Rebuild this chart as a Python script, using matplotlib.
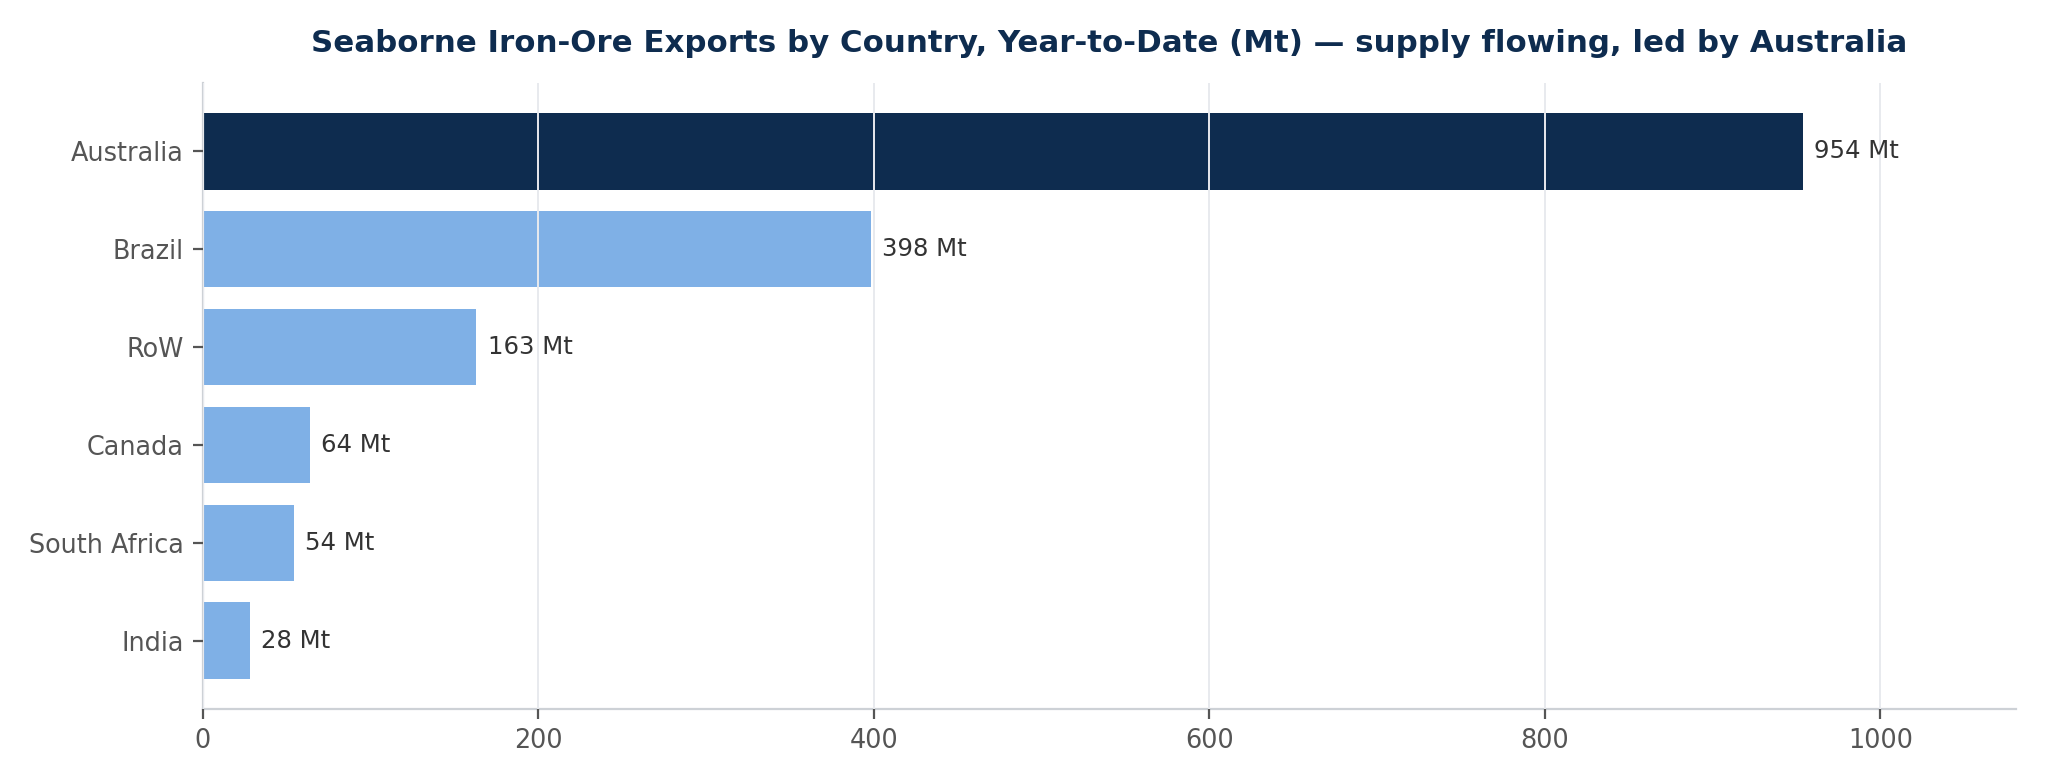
import numpy as np
import matplotlib
matplotlib.use('Agg')
import matplotlib.pyplot as plt

countries = ['Australia', 'Brazil', 'RoW', 'Canada', 'South Africa', 'India']
exports_mt = [954, 398, 163, 64, 54, 28]
value_labels = ['954 Mt', '398 Mt', '163 Mt', '64 Mt', '54 Mt', '28 Mt']
x_ticks = [0, 200, 400, 600, 800, 1000]

navy = '#0e2c4f'
light_blue = '#7fb0e6'

plt.rcParams['font.family'] = ['DejaVu Sans']

fig = plt.figure(figsize=(10.225, 3.905), dpi=200)
ax = fig.add_axes([203 / 2045, 1 - 709 / 781, (2016 - 203) / 2045, (709 - 83) / 781])

y = np.arange(len(countries))
colors = [navy if c == 'Australia' else light_blue for c in countries]
ax.barh(y, exports_mt, height=0.78, color=colors, zorder=1)

for yi, v, lab in zip(y, exports_mt, value_labels):
    ax.annotate(lab, (v, yi), xytext=(4, 0), textcoords='offset points',
                va='center', ha='left', fontsize=8.8, color='#333333')

ax.set_yticks(y)
ax.set_yticklabels(countries)
ax.set_ylim(len(countries) - 0.3, -0.7)
ax.set_xticks(x_ticks)
ax.set_xlim(0, max(exports_mt) * 1.133)

# grid sits over the bars, like the reference
ax.grid(axis='x', color='#e8eaee', linewidth=0.7, zorder=2)
ax.set_axisbelow(False)
for s in ['top', 'right']:
    ax.spines[s].set_visible(False)
for s in ['left', 'bottom']:
    ax.spines[s].set_color('#cdd1d6')
    ax.spines[s].set_linewidth(0.8)
ax.tick_params(axis='both', labelsize=9.2, colors='#555555', length=3.5, width=0.8)

ax.set_title('Seaborne Iron-Ore Exports by Country, Year-to-Date (Mt) \u2014 supply flowing, led by Australia',
             fontsize=11.1, fontweight='bold', color=navy, pad=11)

fig.savefig('out.png', dpi=200)
